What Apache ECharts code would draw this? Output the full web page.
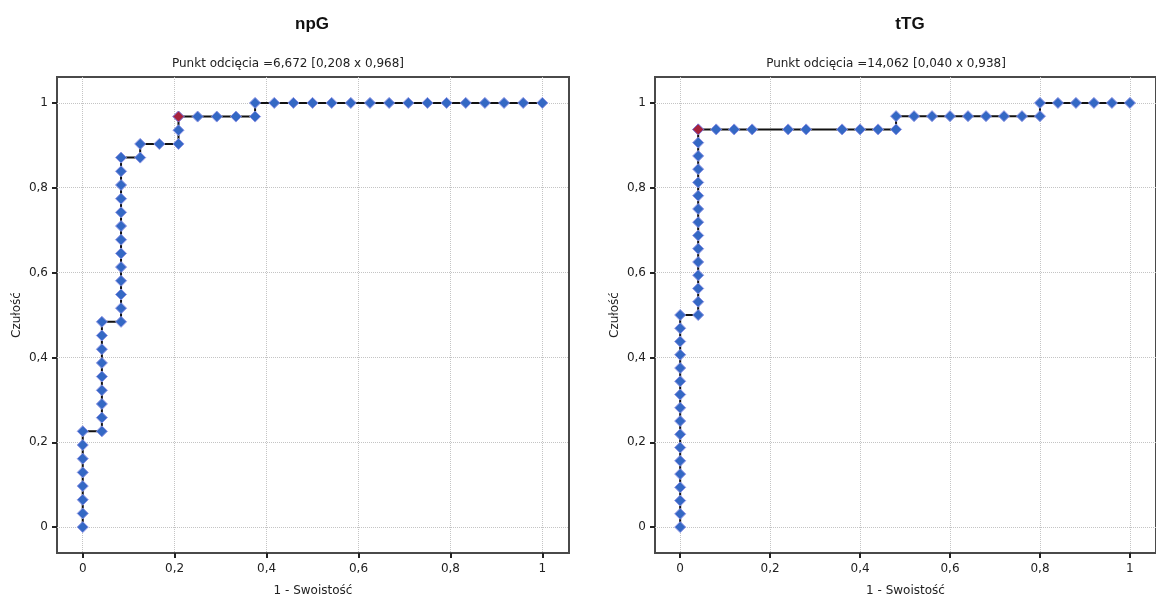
<!DOCTYPE html>
<html>
<head>
<meta charset="utf-8">
<script src="https://cdn.jsdelivr.net/npm/echarts@6/dist/echarts.min.js"></script>
<style>
  html, body { margin: 0; padding: 0; background: #fff; }
  #chart { width: 1156px; height: 602px; }
</style>
</head>
<body>
<div id="chart"></div>
<script>
// liczebności grup (ujemne / dodatnie)
const npgNeg = 24
const npgPos = 31
const ttgNeg = 25
const ttgPos = 32

// punkty krzywej ROC: liczba FP i TP w każdym punkcie
const npgFP = [0, 0, 0, 0, 0, 0, 0, 0, 1, 1, 1, 1, 1, 1, 1, 1, 1, 2, 2, 2, 2, 2, 2, 2, 2, 2, 2, 2, 2, 2, 3, 3, 4, 5, 5, 5, 6, 7, 8, 9, 9, 10, 11, 12, 13, 14, 15, 16, 17, 18, 19, 20, 21, 22, 23, 24]
const npgTP = [0, 1, 2, 3, 4, 5, 6, 7, 7, 8, 9, 10, 11, 12, 13, 14, 15, 15, 16, 17, 18, 19, 20, 21, 22, 23, 24, 25, 26, 27, 27, 28, 28, 28, 29, 30, 30, 30, 30, 30, 31, 31, 31, 31, 31, 31, 31, 31, 31, 31, 31, 31, 31, 31, 31, 31]
const ttgFP = [0, 0, 0, 0, 0, 0, 0, 0, 0, 0, 0, 0, 0, 0, 0, 0, 0, 1, 1, 1, 1, 1, 1, 1, 1, 1, 1, 1, 1, 1, 1, 1, 2, 3, 4, 6, 7, 9, 10, 11, 12, 12, 13, 14, 15, 16, 17, 18, 19, 20, 20, 21, 22, 23, 24, 25]
const ttgTP = [0, 1, 2, 3, 4, 5, 6, 7, 8, 9, 10, 11, 12, 13, 14, 15, 16, 16, 17, 18, 19, 20, 21, 22, 23, 24, 25, 26, 27, 28, 29, 30, 30, 30, 30, 30, 30, 30, 30, 30, 30, 31, 31, 31, 31, 31, 31, 31, 31, 31, 32, 32, 32, 32, 32, 32]

// punkt odcięcia [FP, TP]
const npgCut = [5, 30]
const ttgCut = [1, 30]

const titles = ['npG', 'tTG']
const subtitles = ['Punkt odcięcia =6,672 [0,208 x 0,968]', 'Punkt odcięcia =14,062 [0,040 x 0,938]']
const tickValues = [0, 0.2, 0.4, 0.6, 0.8, 1]

const font = '"DejaVu Sans", Verdana, sans-serif'
const titleFont = '"Liberation Sans", Arial, sans-serif'
const fmt = v => String(+v.toFixed(3)).replace('.', ',')

function toPoints(fp, tp, neg, pos) {
  return fp.map((f, i) => [f / neg, tp[i] / pos])
}

const panels = [
  { left: 57, pts: toPoints(npgFP, npgTP, npgNeg, npgPos), cut: [npgCut[0] / npgNeg, npgCut[1] / npgPos] },
  { left: 655, pts: toPoints(ttgFP, ttgTP, ttgNeg, ttgPos), cut: [ttgCut[0] / ttgNeg, ttgCut[1] / ttgPos] }
]

const option = {
  animation: false,
  backgroundColor: '#fff',
  title: [],
  grid: [],
  xAxis: [],
  yAxis: [],
  series: []
}

panels.forEach((p, i) => {
  option.title.push({
    text: titles[i],
    left: p.left + 250,
    top: 11,
    textAlign: 'center',
    textStyle: { fontFamily: titleFont, fontSize: 17, fontWeight: 'bold', color: '#111' }
  })
  option.title.push({
    text: subtitles[i],
    left: p.left + 226,
    top: 53,
    textAlign: 'center',
    textStyle: { fontFamily: font, fontSize: 12, fontWeight: 'normal', color: '#222' }
  })
  option.grid.push({
    left: p.left,
    top: 77,
    width: 512,
    height: 480,
    show: true,
    borderColor: '#4a4a4a',
    borderWidth: 2,
    backgroundColor: '#fff'
  })
  option.xAxis.push({
    type: 'value',
    gridIndex: i,
    min: -0.056,
    max: 1.058,
    splitNumber: 5,
    name: '1 - Swoistość',
    nameLocation: 'middle',
    nameGap: 32,
    nameTextStyle: { fontFamily: font, fontSize: 12, color: '#222' },
    axisLine: { show: false, onZero: false },
    axisTick: { show: true, length: 5, customValues: tickValues, lineStyle: { color: '#222', width: 2 } },
    axisLabel: { customValues: tickValues, formatter: fmt, margin: 10, fontFamily: font, fontSize: 12, color: '#222' },
    splitLine: { show: true, lineStyle: { color: '#c4c4c4', type: 'dotted', width: 1 } }
  })
  option.yAxis.push({
    type: 'value',
    gridIndex: i,
    min: -0.061,
    max: 1.061,
    splitNumber: 5,
    name: 'Czułość',
    nameLocation: 'middle',
    nameGap: 34,
    nameTextStyle: { fontFamily: font, fontSize: 12, color: '#222' },
    axisLine: { show: false, onZero: false },
    axisTick: { show: true, length: 5, customValues: tickValues, lineStyle: { color: '#222', width: 2 } },
    axisLabel: { customValues: tickValues, formatter: fmt, margin: 9, fontFamily: font, fontSize: 12, color: '#222' },
    splitLine: { show: true, lineStyle: { color: '#c4c4c4', type: 'dotted', width: 1 } }
  })
  option.series.push({
    type: 'line',
    xAxisIndex: i,
    yAxisIndex: i,
    data: p.pts,
    symbol: 'diamond',
    symbolSize: 11,
    showAllSymbol: true,
    lineStyle: { color: '#111', width: 2 },
    itemStyle: { color: '#3468c4', borderColor: '#8c93e6', borderWidth: 1 },
    z: 3
  })
  option.series.push({
    type: 'scatter',
    xAxisIndex: i,
    yAxisIndex: i,
    data: [p.cut],
    symbol: 'diamond',
    symbolSize: 11,
    itemStyle: { color: '#c4121c', borderColor: '#7a6fd0', borderWidth: 1 },
    z: 4
  })
})

const chart = echarts.init(document.getElementById('chart'))
chart.setOption(option)
</script>
</body>
</html>
